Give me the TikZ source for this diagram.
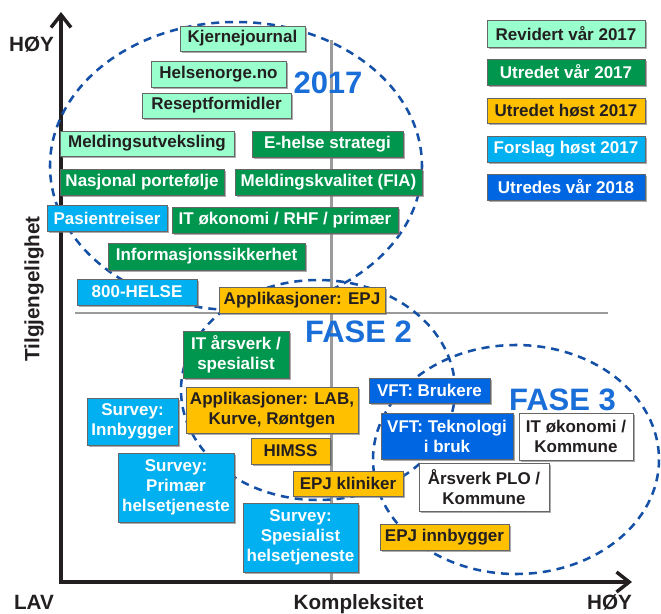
\documentclass[tikz,border=0pt]{standalone}
\usepackage{fontspec}
\setmainfont{Liberation Sans}
\usetikzlibrary{arrows.meta,shadows}
\definecolor{mint}{RGB}{153,255,204}
\definecolor{grn}{RGB}{0,150,78}
\definecolor{amber}{RGB}{255,192,0}
\definecolor{sky}{RGB}{0,176,240}
\definecolor{blu}{RGB}{0,102,225}
\definecolor{dark}{RGB}{35,31,32}
\definecolor{dashblue}{RGB}{20,80,165}
\definecolor{bigblue}{RGB}{25,110,215}
\definecolor{divgrey}{RGB}{155,155,155}
\tikzset{
  wh/.style 2 args={minimum width=#1*0.75pt, minimum height=#2*0.75pt},
  box/.style={draw=black!60, line width=0.5pt, inner sep=0pt, align=center,
    font=\bfseries\fontsize{12.75}{15}\selectfont,
    drop shadow={shadow xshift=1.4pt, shadow yshift=-1.4pt, fill=black!55, opacity=0.6}},
  bmint/.style={box, fill=mint, text=dark},
  bgrn/.style={box, fill=grn, text=white},
  bamber/.style={box, fill=amber, text=dark},
  bsky/.style={box, fill=sky, text=white},
  bblu/.style={box, fill=blu, text=white},
  bwhite/.style={box, fill=white, text=dark},
  phase/.style={draw=dashblue, line width=1.9pt, dash pattern=on 6pt off 4.5pt},
  biglabel/.style={text=bigblue, font=\bfseries\fontsize{23.25}{26}\selectfont, inner sep=0pt},
  axislabel/.style={text=dark, font=\bfseries\fontsize{15.5}{18}\selectfont, inner sep=0pt},
  axisline/.style={draw=dark, line width=2.6pt, {Straight Barb[length=9.5pt,width=15pt]}-{Straight Barb[length=9.5pt,width=15pt]}},
  divider/.style={draw=divgrey, line width=1.6pt},
}
\begin{document}
\begin{tikzpicture}[x=0.75pt,y=-0.75pt]
\useasboundingbox (0,0) rectangle (661,614);
% dividers
\coordinate (vtop) at (331.5,40);
\coordinate (vbot) at (331.5,582);
\coordinate (hl) at (75,313);
\coordinate (hr) at (608,313);
\draw[divider] (vtop) -- (vbot);
\draw[divider] (hl) -- (hr);
% axes
\coordinate (ytip) at (61,12);
\coordinate (orig) at (61,582);
\coordinate (xtip) at (632,582);
\draw[axisline] (ytip) -- (orig) -- (xtip);
% phase ellipses
\draw[phase] (236,166) ellipse [x radius=186, y radius=144];
\draw[phase] (318,390) ellipse [x radius=137, y radius=110];
\draw[phase] (516,459.5) ellipse [x radius=143, y radius=114.5];
% big labels
\node[biglabel] (l2017) at (328,82.5) {2017};
\node[biglabel] (lf2) at (358.5,331.5) {FASE 2};
\node[biglabel] (lf3) at (562.5,399.5) {FASE 3};
% axis labels
\node[axislabel] (yhigh) at (31.5,44.5) {HØY};
\node[axislabel, anchor=base] (xlow) at (34,609) {LAV};
\node[axislabel, anchor=base] (xname) at (358.5,609) {Kompleksitet};
\node[axislabel, anchor=base] (xhigh) at (609.5,609) {HØY};
\node[axislabel, rotate=90] (yname) at (34,289) {Tilgjengelighet};
% legend
\node[bmint, wh={158}{27}] (lg1) at (566,33.5) {Revidert vår 2017};
\node[bgrn, wh={158}{26}] (lg2) at (566,72) {Utredet vår 2017};
\node[bamber, wh={158}{25}] (lg3) at (566,110.5) {Utredet høst 2017};
\node[bsky, wh={158}{26}] (lg4) at (566,149) {Forslag høst 2017};
\node[bblu, wh={158}{26}] (lg5) at (566,187) {Utredes vår 2018};
% boxes
\node[bmint, wh={125}{25}] (kj) at (242.5,38.5) {Kjernejournal};
\node[bmint, wh={135}{26}] (hn) at (218.5,74) {Helsenorge.no};
\node[bmint, wh={149}{25}] (rf) at (216.5,105.5) {Reseptformidler};
\node[bmint, wh={174}{25}] (mu) at (147,143.5) {Meldingsutveksling};
\node[bgrn, wh={151}{26}] (eh) at (327.5,144) {E-helse strategi};
\node[bgrn, wh={164}{26}] (np) at (142,182) {Nasjonal portefølje};
\node[bgrn, wh={187}{26}] (mk) at (328.5,182) {Meldingskvalitet (FIA)};
\node[bsky, wh={120}{26}] (pr) at (107,218) {Pasientreiser};
\node[bgrn, wh={226}{26}] (ito) at (285,220) {IT økonomi / RHF / primær};
\node[bgrn, wh={197}{27}] (is) at (206.5,256.5) {Informasjonssikkerhet};
\node[bsky, wh={120}{26}] (h800) at (137,292) {800-HELSE};
\node[bamber, wh={166}{26}] (aepj) at (302,300) {Applikasjoner: EPJ};
\node[bgrn, wh={106}{47}] (itar) at (236,354.5) {IT årsverk /\\spesialist};
\node[bamber, wh={172}{46}] (alab) at (272,410) {Applikasjoner: LAB,\\Kurve, Røntgen};
\node[bamber, wh={79}{26}] (himss) at (290.5,451) {HIMSS};
\node[bamber, wh={110}{25}] (epjk) at (348,483.5) {EPJ kliniker};
\node[bsky, wh={91}{47}] (sinn) at (132.5,421.5) {Survey:\\Innbygger};
\node[bsky, wh={116}{69}] (sprim) at (176,487.5) {Survey:\\Primær\\helsetjeneste};
\node[bsky, wh={115}{69}] (sspes) at (300.5,537.5) {Survey:\\Spesialist\\helsetjeneste};
\node[bblu, wh={121}{25}] (vftb) at (429.5,390.5) {VFT: Brukere};
\node[bblu, wh={132}{46}] (vftt) at (447,436) {VFT: Teknologi\\i bruk};
\node[bwhite, wh={114}{47}] (itk) at (576,436.5) {IT økonomi /\\Kommune};
\node[bwhite, wh={130}{48}] (arsv) at (484,487) {Årsverk PLO /\\Kommune};
\node[bamber, wh={129}{26}] (epji) at (444.5,537) {EPJ innbygger};
\end{tikzpicture}
\end{document}
